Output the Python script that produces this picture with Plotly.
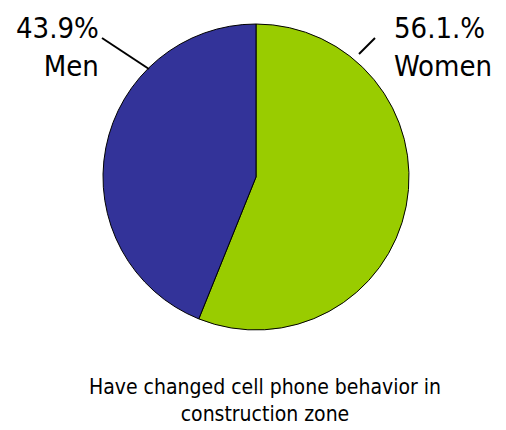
import plotly.graph_objects as go

labels = ["Women", "Men"]
values = [56.1, 43.9]
label_texts = ["56.1.%<br>Women", "43.9%<br>Men"]
colors = ["#99CC00", "#333399"]
title_text = "Have changed cell phone behavior in<br>construction zone"

FONT = "Liberation Sans Narrow, Arial Narrow, DejaVu Sans Condensed, sans-serif"

OFF = 8  # page body margin
W, H = 506 - OFF, 430 - OFF


def px(x, y):
    return (x - OFF) / W, 1 - (y - OFF) / H


x0, y0 = px(103, 330)
x1, y1 = px(409, 24)
fig = go.Figure(go.Pie(
    labels=labels, values=values, sort=False, direction="clockwise", rotation=0,
    marker=dict(colors=colors, line=dict(color="#000000", width=1)),
    textinfo="none", hoverinfo="label+percent", showlegend=False,
    domain=dict(x=[x0, x1], y=[y0, y1]),
))

anns = []
x, y = px(101, 47)
anns.append(dict(x=x, y=y, xref="paper", yref="paper", text=label_texts[1], showarrow=False,
                 xanchor="right", yanchor="middle", align="right",
                 font=dict(family=FONT, size=29, color="#000")))
x, y = px(392, 47)
anns.append(dict(x=x, y=y, xref="paper", yref="paper", text=label_texts[0], showarrow=False,
                 xanchor="left", yanchor="middle", align="left",
                 font=dict(family=FONT, size=29, color="#000")))
x, y = px(265, 400)
anns.append(dict(x=x, y=y, xref="paper", yref="paper", text=title_text, showarrow=False,
                 xanchor="center", yanchor="middle", align="center",
                 font=dict(family=FONT, size=21, color="#000")))
fig.update_layout(annotations=anns)

shapes = []
for (a, b, c, d) in [(102, 38, 149, 69), (375, 38, 359, 54)]:
    a0, b0 = px(a, b)
    a1, b1 = px(c, d)
    shapes.append(dict(type="line", xref="paper", yref="paper", x0=a0, y0=b0, x1=a1, y1=b1,
                       line=dict(color="#000", width=2)))
fig.update_layout(shapes=shapes)

fig.update_layout(width=W, height=H, margin=dict(l=0, r=0, t=0, b=0),
                  paper_bgcolor="white", plot_bgcolor="white")
fig.write_html("out.html")
